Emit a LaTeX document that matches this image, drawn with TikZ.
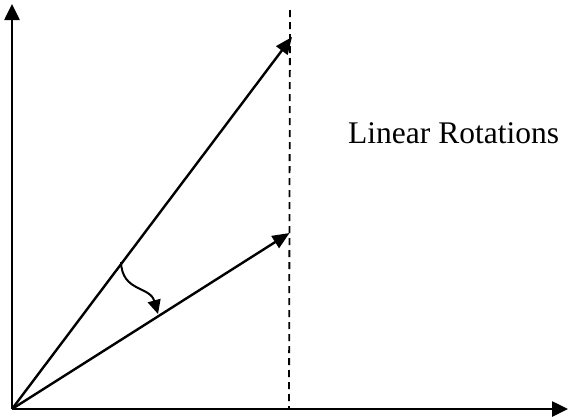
\documentclass[tikz,border=0pt]{standalone}
\usepackage{fontspec}
\setmainfont{Liberation Serif}
\usetikzlibrary{arrows.meta}
\begin{document}
\begin{tikzpicture}[x=1pt,y=-1pt,
  axis/.style={line width=2.6pt,-{Triangle[length=16pt,width=15pt]}},
  vec/.style={line width=2.4pt,-{Triangle[length=17pt,width=14pt]}},
  guide/.style={line width=1.8pt,dash pattern=on 7pt off 5pt},
  turn/.style={line width=2pt,-{Triangle[length=14pt,width=13pt]}},
  lbl/.style={font=\fontsize{31.5pt}{36pt}\selectfont,anchor=base west,inner sep=0pt}]
\useasboundingbox (0,0) rectangle (568,416);
\coordinate (O) at (12,409);
\coordinate (Ytip) at (12,4);
\coordinate (Xtip) at (568,409);
\coordinate (A) at (292,37);
\coordinate (B) at (289.5,233);
\coordinate (Dtop) at (290,10);
\coordinate (Dbot) at (289,409);
\coordinate (S) at (121,262);
\coordinate (E) at (158,314);
\draw[guide] (Dtop) -- (Dbot);
\draw[axis] (O) -- (Ytip);
\draw[axis] (O) -- (Xtip);
\draw[vec] (O) -- (A);
\draw[vec] (O) -- (B);
\draw[turn] (S) .. controls (122,292) and (150,286) .. (E);
\node[lbl] (T) at (348,143) {Linear Rotations};
\end{tikzpicture}
\end{document}
